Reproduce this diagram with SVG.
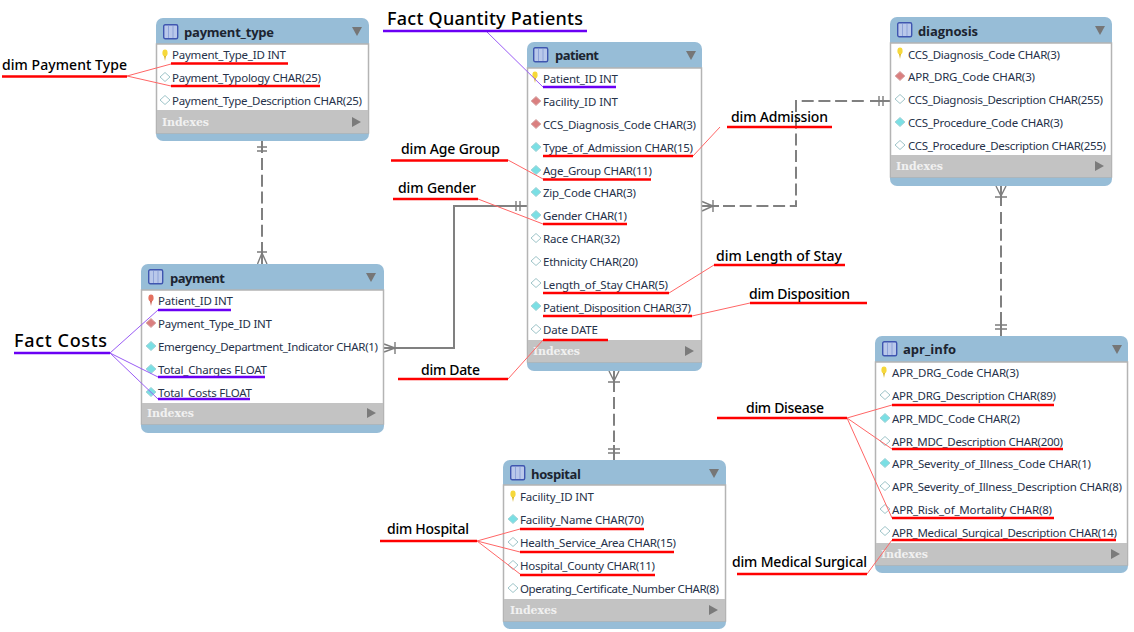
<svg xmlns="http://www.w3.org/2000/svg" width="1134" height="632" viewBox="0 0 1134 632">
<style>
.card{fill:#fff;stroke:#b4b4b4;stroke-width:1.5}
.hd{fill:#97bdd7}
.ix{fill:#c3c3c3}
.t{font:bold 13px "Open Sans","Liberation Sans",sans-serif;fill:#1c2430}
.r{font:11.5px "Noto Sans","Liberation Sans",sans-serif;fill:#26324a}
.i{font:bold 11px "DejaVu Serif","Liberation Serif",serif;fill:#f1f1f1}
.a{fill:#767676}
.b{fill:#7b7b7b}
.ic{fill:#b9c8ea;stroke:#3f56b0;stroke-width:1.4}
.icl{stroke:#8ea3d8;stroke-width:1;fill:none}
.l{font:500 14px "Noto Sans","Liberation Sans",sans-serif;fill:#000}
.lb{font:500 18px "Noto Sans","Liberation Sans",sans-serif;fill:#000}
.rd{stroke:#f00;stroke-width:2.4;fill:none}
.pu{stroke:#6a00f4;stroke-width:2.4;fill:none}
.rt{stroke:#f66;stroke-width:1;fill:none}
.pt{stroke:#9a5cf5;stroke-width:1;fill:none}
.c{stroke:#808080;stroke-width:2;fill:none}
.d{stroke-dasharray:12 4.700}
.m{stroke:#7c7c7c;stroke-width:1.4;fill:none}
</style>
<defs>
<g id="tbl"><rect x="0.7" y="0.7" width="14" height="14" rx="1.5" class="ic"/><path d="M5.5 2V14M10 2V14" class="icl"/></g>
<g id="ky"><ellipse cx="0" cy="-3" rx="2.6" ry="3.4" fill="#f6d83a"/><path d="M-1 0L0 5L1 0Z" fill="#d8b52a"/></g>
<g id="kr"><ellipse cx="0" cy="-3" rx="2.6" ry="3.4" fill="#e4705f"/><path d="M-1 0L0 5L1 0Z" fill="#c95a4d"/></g>
<path id="dc" d="M-5 0L0-4.5L5 0L0 4.5Z" fill="#7adfe4" stroke="#a5d4d8"/>
<path id="dr" d="M-5 0L0-4.5L5 0L0 4.5Z" fill="#da7f7f" stroke="#d9b0b0"/>
<path id="dw" d="M-5 0L0-4.5L5 0L0 4.5Z" fill="#fff" stroke="#9fc5c9"/>
</defs>

<g id="connectors">
<path class="c" d="M262 141V153M262 242V264"/>
<path class="c d" d="M262 158V238"/>
<path class="m" d="M257 147H267M257 151H267M257.500 264L262 253L267 264M257 252H267"/>
<path class="c" d="M384 348H454V206H527"/>
<path class="m" d="M384 344L395 348L384 352M395 342V354M516 201V211M520 201V211"/>
<path class="c" d="M702 206H719M870 101H890"/>
<path class="c d" d="M723 206H796V101H868"/>
<path class="m" d="M702 201.500L713 206L702 211M713 200V212M879 96V106M883 96V106"/>
<path class="c" d="M614 371V392M614 445V460"/>
<path class="c d" d="M614 397V442"/>
<path class="m" d="M609 371L614 381L619 371M608 382H620M608 449H620M608 453H620"/>
<path class="c" d="M1001 186V206M1001 312V336"/>
<path class="c d" d="M1001 212V308"/>
<path class="m" d="M996 186L1001 196L1006 186M995 197H1007M995 325H1007M995 329H1007"/>
</g>

<g id="payment_type">
<rect class="hd" x="156" y="18" width="213" height="123" rx="7"/>
<rect class="card" x="156.500" y="44" width="212" height="89"/><rect class="ix" x="157" y="110" width="211" height="23"/>
<use href="#tbl" x="163" y="24"/><text class="t" x="184" y="37" textLength="90">payment_type</text><path class="a" d="M352 27H362L357 36Z"/>
<use href="#ky" x="165" y="56"/><text class="r" x="172" y="59" textLength="114">Payment_Type_ID INT</text>
<use href="#dw" x="165" y="77"/><text class="r" x="172" y="82" textLength="149">Payment_Typology CHAR(25)</text>
<use href="#dw" x="165" y="100"/><text class="r" x="172" y="105" textLength="190">Payment_Type_Description CHAR(25)</text>
<text class="i" x="162" y="126" textLength="47">Indexes</text><path class="b" d="M352 117L361 122L352 127Z"/>
</g>

<g id="patient">
<rect class="hd" x="527" y="42" width="175" height="329" rx="7"/>
<rect class="card" x="527.500" y="68" width="174" height="294"/><rect class="ix" x="528" y="340" width="173" height="22"/>
<use href="#tbl" x="533" y="47"/><text class="t" x="555" y="60" textLength="44">patient</text><path class="a" d="M686 51H696L691 60Z"/>
<use href="#ky" x="535" y="78"/><text class="r" x="543" y="83" textLength="75">Patient_ID INT</text>
<use href="#dr" x="536" y="101"/><text class="r" x="543" y="106" textLength="75">Facility_ID INT</text>
<use href="#dr" x="536" y="124"/><text class="r" x="543" y="129" textLength="153">CCS_Diagnosis_Code CHAR(3)</text>
<use href="#dc" x="536" y="147"/><text class="r" x="543" y="152" textLength="150">Type_of_Admission CHAR(15)</text>
<use href="#dc" x="536" y="170"/><text class="r" x="543" y="175" textLength="109">Age_Group CHAR(11)</text>
<use href="#dc" x="536" y="192"/><text class="r" x="543" y="197" textLength="93">Zip_Code CHAR(3)</text>
<use href="#dc" x="536" y="215"/><text class="r" x="543" y="220" textLength="84">Gender CHAR(1)</text>
<use href="#dw" x="536" y="238"/><text class="r" x="543" y="243" textLength="77">Race CHAR(32)</text>
<use href="#dw" x="536" y="261"/><text class="r" x="543" y="266" textLength="95">Ethnicity CHAR(20)</text>
<use href="#dw" x="536" y="283"/><text class="r" x="543" y="289" textLength="125">Length_of_Stay CHAR(5)</text>
<use href="#dc" x="536" y="306"/><text class="r" x="543" y="312" textLength="148">Patient_Disposition CHAR(37)</text>
<use href="#dw" x="536" y="329"/><text class="r" x="543" y="334" textLength="55">Date DATE</text>
<text class="i" x="533" y="355" textLength="47">Indexes</text><path class="b" d="M685 346L694 351L685 356Z"/>
</g>

<g id="payment">
<rect class="hd" x="141" y="264" width="243" height="169" rx="7"/>
<rect class="card" x="141.500" y="290" width="242" height="134"/><rect class="ix" x="142" y="403" width="241" height="21"/>
<use href="#tbl" x="148" y="269"/><text class="t" x="170" y="283" textLength="55">payment</text><path class="a" d="M366 273H376L371 282Z"/>
<use href="#kr" x="151" y="301"/><text class="r" x="158" y="305" textLength="75">Patient_ID INT</text>
<use href="#dr" x="151" y="323"/><text class="r" x="158" y="328" textLength="114">Payment_Type_ID INT</text>
<use href="#dc" x="151" y="346"/><text class="r" x="158" y="351" textLength="220">Emergency_Department_Indicator CHAR(1)</text>
<use href="#dc" x="151" y="369"/><text class="r" x="158" y="374" textLength="109">Total_Charges FLOAT</text>
<use href="#dc" x="151" y="392"/><text class="r" x="158" y="397" textLength="94">Total_Costs FLOAT</text>
<text class="i" x="147" y="417" textLength="47">Indexes</text><path class="b" d="M367 408L376 413L367 418Z"/>
</g>

<g id="diagnosis">
<rect class="hd" x="890" y="17" width="222" height="169" rx="7"/>
<rect class="card" x="890.500" y="43" width="221" height="134"/><rect class="ix" x="891" y="155" width="220" height="22"/>
<use href="#tbl" x="897" y="22"/><text class="t" x="918" y="36" textLength="60">diagnosis</text><path class="a" d="M1095 26H1105L1100 35Z"/>
<use href="#ky" x="900" y="54"/><text class="r" x="908" y="59" textLength="152">CCS_Diagnosis_Code CHAR(3)</text>
<use href="#dr" x="900" y="76"/><text class="r" x="908" y="81" textLength="127">APR_DRG_Code CHAR(3)</text>
<use href="#dw" x="900" y="99"/><text class="r" x="908" y="104" textLength="195">CCS_Diagnosis_Description CHAR(255)</text>
<use href="#dc" x="900" y="122"/><text class="r" x="908" y="127" textLength="155">CCS_Procedure_Code CHAR(3)</text>
<use href="#dw" x="900" y="145"/><text class="r" x="908" y="150" textLength="198">CCS_Procedure_Description CHAR(255)</text>
<text class="i" x="896" y="170" textLength="47">Indexes</text><path class="b" d="M1095 161L1104 166L1095 171Z"/>
</g>

<g id="apr_info">
<rect class="hd" x="875" y="336" width="253" height="237" rx="7"/>
<rect class="card" x="875.500" y="362" width="252" height="203"/><rect class="ix" x="876" y="543" width="251" height="22"/>
<use href="#tbl" x="882" y="341"/><text class="t" x="903" y="354" textLength="53">apr_info</text><path class="a" d="M1112 345H1122L1117 354Z"/>
<use href="#ky" x="884" y="373"/><text class="r" x="892" y="377" textLength="127">APR_DRG_Code CHAR(3)</text>
<use href="#dw" x="885" y="395"/><text class="r" x="892" y="400" textLength="164">APR_DRG_Description CHAR(89)</text>
<use href="#dc" x="885" y="418"/><text class="r" x="892" y="423" textLength="128">APR_MDC_Code CHAR(2)</text>
<use href="#dw" x="885" y="441"/><text class="r" x="892" y="446" textLength="171">APR_MDC_Description CHAR(200)</text>
<use href="#dc" x="885" y="463"/><text class="r" x="892" y="468" textLength="199">APR_Severity_of_Illness_Code CHAR(1)</text>
<use href="#dw" x="885" y="486"/><text class="r" x="892" y="491" textLength="230">APR_Severity_of_Illness_Description CHAR(8)</text>
<use href="#dw" x="885" y="509"/><text class="r" x="892" y="514" textLength="160">APR_Risk_of_Mortality CHAR(8)</text>
<use href="#dw" x="885" y="531"/><text class="r" x="892" y="537" textLength="225">APR_Medical_Surgical_Description CHAR(14)</text>
<text class="i" x="881" y="558" textLength="47">Indexes</text><path class="b" d="M1111 549L1120 554L1111 559Z"/>
</g>

<g id="hospital">
<rect class="hd" x="503" y="460" width="223" height="169" rx="7"/>
<rect class="card" x="503.500" y="485" width="222" height="136"/><rect class="ix" x="504" y="599" width="221" height="22"/>
<use href="#tbl" x="510" y="465"/><text class="t" x="531" y="479" textLength="50">hospital</text><path class="a" d="M709 469H719L714 478Z"/>
<use href="#ky" x="513" y="497"/><text class="r" x="520" y="501" textLength="74">Facility_ID INT</text>
<use href="#dc" x="513" y="519"/><text class="r" x="520" y="524" textLength="124">Facility_Name CHAR(70)</text>
<use href="#dw" x="513" y="542"/><text class="r" x="520" y="547" textLength="156">Health_Service_Area CHAR(15)</text>
<use href="#dw" x="513" y="565"/><text class="r" x="520" y="570" textLength="135">Hospital_County CHAR(11)</text>
<use href="#dw" x="513" y="588"/><text class="r" x="520" y="593" textLength="199">Operating_Certificate_Number CHAR(8)</text>
<text class="i" x="510" y="614" textLength="47">Indexes</text><path class="b" d="M709 605L718 610L709 615Z"/>
</g>

<g id="annotations">
<path class="rt" d="M127 76L171 64M127 76L171 86M508 160L543 179M478 199L543 224M693 156L720 127M669 293L714 265M692 316L750 303M508 379L543 340M847 418L892 405M847 418L892 449M847 418L892 518M867 574L892 540M477 541L520 529M477 541L520 552M477 541L520 574"/>
<path class="pt" d="M486 31L543 87M110 353L158 310M110 353L158 377M110 353L158 399"/>
<path class="rd" d="M2 76.500H127M171 63.500H288M171 86H320M391 160.500H508M543 179.500H651M393 199H478M543 224H627M543 156H693M727 127H832M543 293H669M714 265H845M543 316H692M750 303H867M398 379H508M543 340H608M717 418H847M892 405H1054M892 449H1063M892 518H1054M737 574H867M892 540H1116M380 541H477M520 529H644M520 552H674M520 575H655"/>
<path class="pu" d="M383 31H587M543 87H616M14 353H110M158 310H231M158 377H265M158 399H250"/>
<text class="l" x="2" y="70" textLength="125">dim Payment Type</text>
<text class="lb" x="387" y="25" textLength="196">Fact Quantity Patients</text>
<text class="l" x="401" y="154" textLength="99">dim Age Group</text>
<text class="l" x="398" y="193" textLength="78">dim Gender</text>
<text class="l" x="731" y="122" textLength="97">dim Admission</text>
<text class="l" x="716" y="261" textLength="126">dim Length of Stay</text>
<text class="l" x="749" y="299" textLength="101">dim Disposition</text>
<text class="lb" x="14" y="347" textLength="93">Fact Costs</text>
<text class="l" x="421" y="375" textLength="59">dim Date</text>
<text class="l" x="746" y="413" textLength="78">dim Disease</text>
<text class="l" x="732" y="567" textLength="135">dim Medical Surgical</text>
<text class="l" x="387" y="534" textLength="82">dim Hospital</text>
</g>
</svg>
